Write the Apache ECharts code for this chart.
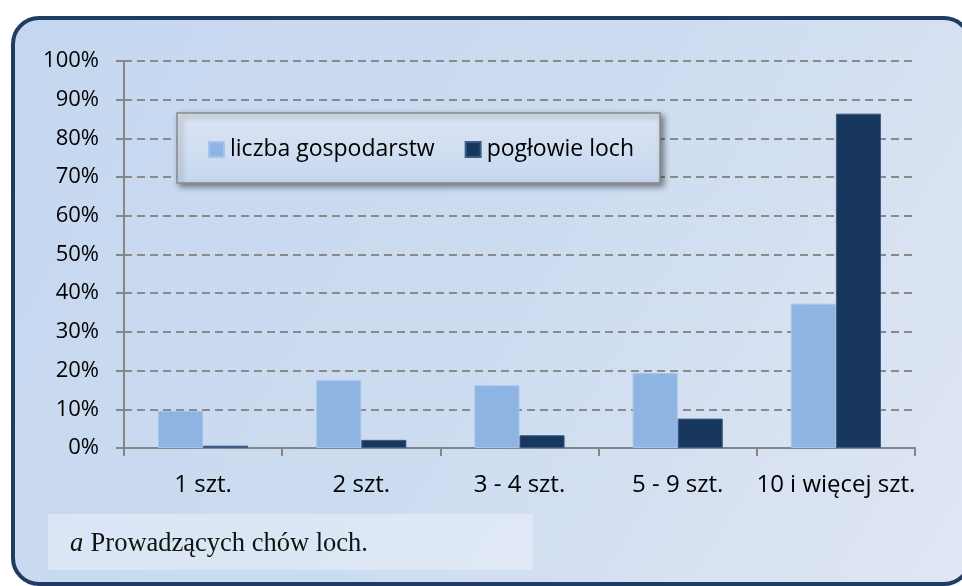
<!DOCTYPE html>
<html>
<head>
<meta charset="utf-8">
<script src="https://cdn.jsdelivr.net/npm/echarts@6/dist/echarts.min.js"></script>
<style>
html,body{margin:0;padding:0;background:#fff;}
#c{width:962px;height:586px;}
</style>
</head>
<body>
<div id="c"></div>
<script>
var categories = ['1 szt.', '2 szt.', '3 - 4 szt.', '5 - 9 szt.', '10 i więcej szt.'];
var seriesNames = ['liczba gospodarstw', 'pogłowie loch'];
var farms = [9.6, 17.5, 16.2, 19.4, 37.3];
var sows = [0.6, 2.1, 3.3, 7.6, 86.4];
var yTicks = [0, 10, 20, 30, 40, 50, 60, 70, 80, 90, 100];
var footnote = 'Prowadzących chów loch.';

var FONT = '"Open Sans", Lato, sans-serif';
var chart = echarts.init(document.getElementById('c'), null, {renderer: 'canvas'});
chart.setOption({
  animation: false,
  backgroundColor: '#ffffff',
  graphic: [
    {
      type: 'rect', z: -10, silent: true,
      shape: {x: 13, y: 18, width: 957, height: 566, r: 26},
      style: {
        fill: {type: 'linear', x: 0, y: 0, x2: 1, y2: 1, colorStops: [
          {offset: 0, color: '#c5d7f0'}, {offset: 0.5, color: '#ccdcf0'}, {offset: 1, color: '#e0e6f4'}]},
        stroke: '#1f3d62', lineWidth: 4
      }
    },
    {
      type: 'rect', z: -9, silent: true,
      shape: {x: 48, y: 514, width: 485, height: 56},
      style: {fill: 'rgba(255,255,255,0.32)'}
    },
    {
      type: 'text', z: 5, silent: true,
      style: {
        x: 70, y: 544, verticalAlign: 'middle',
        rich: {
          i: {fontFamily: '"Liberation Serif", "Times New Roman", serif', fontStyle: 'italic', fontSize: 26.5, fill: '#111'},
          n: {fontFamily: '"Liberation Serif", "Times New Roman", serif', fontSize: 26.5, fill: '#111', padding: [0, 0, 0, 4]}
        },
        text: '{i|a} {n|' + footnote + '}'
      }
    },
    {
      type: 'rect', z: 3, silent: true,
      shape: {x: 177, y: 113, width: 483, height: 70},
      style: {
        fill: {type: 'linear', x: 0, y: 0, x2: 0, y2: 1, colorStops: [
          {offset: 0, color: '#dbe5f3'}, {offset: 1, color: '#c6d8ef'}]},
        stroke: '#8a8a8a', lineWidth: 1.5,
        shadowBlur: 6, shadowOffsetX: 3, shadowOffsetY: 3, shadowColor: 'rgba(0,0,0,0.45)'
      }
    }
  ],
  legend: {
    data: seriesNames,
    left: 208, top: 138, padding: 0,
    itemWidth: 15, itemHeight: 15, itemGap: 30,
    icon: 'rect',
    textStyle: {fontFamily: FONT, fontSize: 23, color: '#000', padding: [0, 0, 0, 1]},
    z: 6
  },
  grid: {left: 124, right: 47, top: 61, bottom: 138, containLabel: false},
  xAxis: {
    type: 'category',
    data: categories,
    axisLine: {lineStyle: {color: '#868686', width: 2}},
    axisTick: {show: true, length: 8, interval: 0, lineStyle: {color: '#868686', width: 2}},
    axisLabel: {fontFamily: FONT, fontSize: 24, color: '#000', margin: 25, interval: 0}
  },
  yAxis: {
    type: 'value',
    min: 0, max: 100, interval: 10,
    axisLine: {show: true, lineStyle: {color: '#868686', width: 2}},
    axisTick: {show: true, length: 8, lineStyle: {color: '#868686', width: 2}},
    axisLabel: {fontFamily: FONT, fontSize: 22, color: '#000', margin: 25,
      formatter: function (v) { return yTicks.indexOf(v) >= 0 ? v + '%' : ''; }},
    splitLine: {show: true, lineStyle: {color: '#8a8a8a', width: 2, type: [8, 5]}}
  },
  series: [
    {
      name: seriesNames[0], type: 'bar', data: farms,
      barGap: '0%', barCategoryGap: '43%',
      itemStyle: {color: '#8eb4e3', borderColor: '#a8c3e8', borderWidth: 1}
    },
    {
      name: seriesNames[1], type: 'bar', data: sows,
      itemStyle: {color: '#17375e', borderColor: '#3e5d84', borderWidth: 1}
    }
  ]
});
</script>
</body>
</html>
